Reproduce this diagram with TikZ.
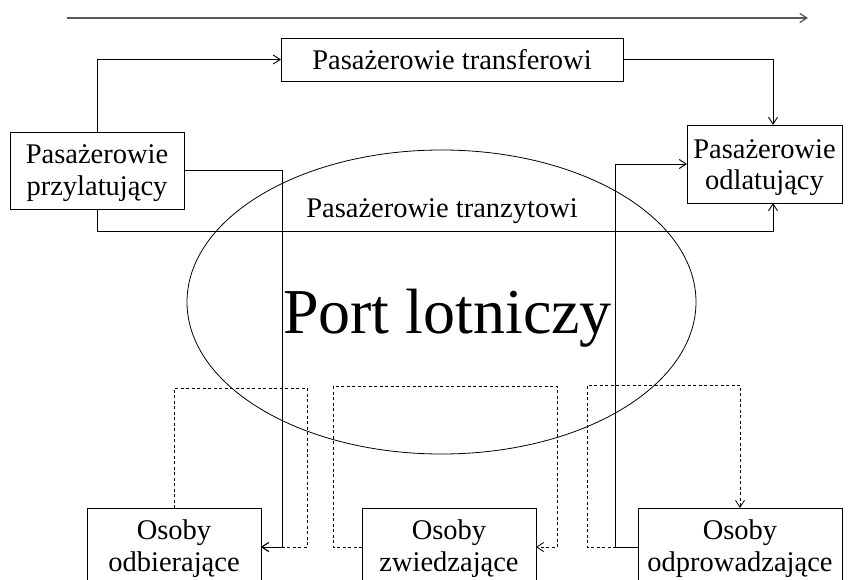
\documentclass[tikz,border=0pt]{standalone}
\usepackage{fontspec}
\setmainfont{Liberation Serif}
\usetikzlibrary{arrows.meta,shapes.geometric}
\begin{document}
\begin{tikzpicture}[x=1pt,y=-1pt,
  every node/.style={inner sep=0pt,outer sep=0pt},
  box/.style={draw,line width=0.9pt,rectangle},
  txt/.style={anchor=base,font=\fontsize{28.5}{32}\selectfont},
  tip/.tip={Straight Barb[length=7pt,width=9pt]},
  flow/.style={line width=0.9pt,-tip},
  aux/.style={line width=0.8pt,dash pattern=on 3pt off 2.5pt,-tip}]
\useasboundingbox (0,0) rectangle (850,580);
\clip (0,0) rectangle (850,580);

% direction of passenger flow
\coordinate (dirA) at (67,18);
\coordinate (dirB) at (808,18);
\draw[flow,line width=1.3pt,black!65] (dirA) -- (dirB);

% boxes
\node[box,minimum width=342pt,minimum height=43pt] (trf) at (452,59.5) {};
\node[box,minimum width=174pt,minimum height=77pt] (arr) at (97,170.5) {};
\node[box,minimum width=155pt,minimum height=78pt] (dep) at (764.5,164) {};
\node[box,minimum width=174pt,minimum height=78pt] (pick) at (174,547) {};
\node[box,minimum width=174pt,minimum height=78pt] (visit) at (449,547) {};
\node[box,minimum width=204pt,minimum height=78pt] (see) at (740,547) {};

% airport
\node[ellipse,draw,line width=0.8pt,minimum width=509pt,minimum height=304pt] (port) at (441.5,302) {};
\node[anchor=base,font=\fontsize{64}{70}\selectfont] (port-t) at (447.5,333) {Port lotniczy};

% labels
\node[txt] (trf-t) at (452,69.5) {Pasażerowie transferowi};
\node[txt] (arr-t) at (97,164) {\begin{tabular}[t]{@{}c@{}}Pasażerowie\\przylatujący\end{tabular}};
\node[txt] (dep-t) at (764.5,158) {\begin{tabular}[t]{@{}c@{}}Pasażerowie\\odlatujący\end{tabular}};
\node[txt] (pick-t) at (174,539) {\begin{tabular}[t]{@{}c@{}}Osoby\\odbierające\end{tabular}};
\node[txt] (visit-t) at (449,539) {\begin{tabular}[t]{@{}c@{}}Osoby\\zwiedzające\end{tabular}};
\node[txt] (see-t) at (740,539) {\begin{tabular}[t]{@{}c@{}}Osoby\\odprowadzające\end{tabular}};
\node[txt] (trz-t) at (442,217) {Pasażerowie tranzytowi};

% passenger flows
\draw[flow] (arr.north) |- (trf.west);
\draw[flow] (trf.east) -| ([xshift=8.5pt]dep.north);
\draw[flow] (arr.south) -- ++(0,22) -| ([xshift=8.5pt]dep.south);
\draw[flow] (arr.east) -| (282,547) -- (pick.east);
\draw[flow] (see.west) -| (615,164) -- (dep.west);

% accompanying persons
\draw[aux] (pick.north) |- (307,388) -- (307,547) -- (pick.east);
\draw[aux] (visit.west) -- (333,547) |- (557,386) -- (557,547) -- (visit.east);
\draw[aux] (see.west) -- (587,547) |- (740,385) -- (see.north);
\end{tikzpicture}
\end{document}
